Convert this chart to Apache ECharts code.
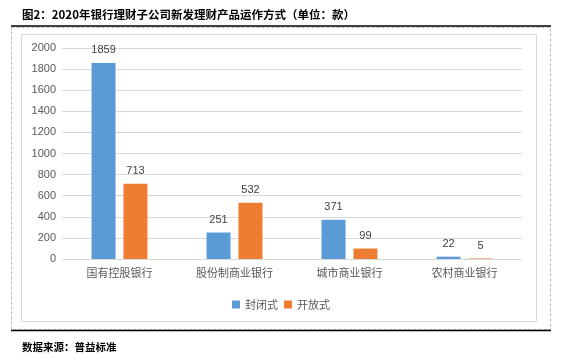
<!DOCTYPE html>
<html><head><meta charset="utf-8">
<script src="https://cdn.jsdelivr.net/npm/echarts@6/dist/echarts.min.js"></script>
<style>html,body{margin:0;padding:0;background:#fff}#c{width:562px;height:358px}</style>
</head><body><div id="c"></div>
<script>
var categories = ['国有控股银行', '股份制商业银行', '城市商业银行', '农村商业银行'];
var closedValues = [1859, 251, 371, 22];
var openValues = [713, 532, 99, 5];
var seriesNames = ['封闭式', '开放式'];
var yTicks = {min: 0, max: 2000, interval: 200};

var font = '"Noto Sans CJK SC", sans-serif';
var chart = echarts.init(document.getElementById('c'));
chart.setOption({
  animation: false,
  title: [{
    text: '图2：2020年银行理财子公司新发理财产品运作方式（单位：款）',
    left: 17, top: 4,
    textStyle: {fontFamily: font, fontSize: 11.5, fontWeight: 'bold', color: '#000'}
  }, {
    text: '数据来源：普益标准',
    left: 17, top: 337,
    textStyle: {fontFamily: font, fontSize: 10.5, fontWeight: 'bold', color: '#000'}
  }],
  graphic: [
    {type: 'rect', shape: {x: 11.5, y: 27.5, width: 539, height: 302}, style: {fill: 'none', stroke: '#bbb', lineWidth: 1, lineDash: [3, 2]}},
    {type: 'rect', shape: {x: 21.5, y: 34.5, width: 515, height: 287}, style: {fill: 'none', stroke: '#d9d9d9', lineWidth: 1}},
    {type: 'line', shape: {x1: 11, y1: 26, x2: 551, y2: 26}, style: {stroke: '#000', lineWidth: 1.5}},
    {type: 'line', shape: {x1: 11, y1: 330.5, x2: 551, y2: 330.5}, style: {stroke: '#000', lineWidth: 1.5}}
  ],
  grid: {left: 62, right: 40, top: 48, bottom: 99},
  legend: {
    data: seriesNames, left: 'center', top: 294,
    itemWidth: 8, itemHeight: 8, itemGap: 6, icon: 'rect',
    textStyle: {fontFamily: font, fontSize: 11, color: '#595959'}
  },
  xAxis: {
    type: 'category', data: categories,
    axisLine: {lineStyle: {color: '#d9d9d9'}},
    axisTick: {show: false},
    axisLabel: {fontFamily: font, fontSize: 11, color: '#595959', margin: 8}
  },
  yAxis: {
    type: 'value', min: yTicks.min, max: yTicks.max, interval: yTicks.interval,
    axisLine: {show: false}, axisTick: {show: false},
    splitLine: {lineStyle: {color: '#d9d9d9'}},
    axisLabel: {fontFamily: 'Liberation Sans, Arial, sans-serif', fontSize: 11, color: '#595959', margin: 6,
      formatter: function (v) { return String(v); }}
  },
  series: [{
    name: seriesNames[0], type: 'bar', data: closedValues, barWidth: 24, barGap: '33%',
    itemStyle: {color: '#5B9BD5'},
    label: {show: true, position: 'top', distance: 7, fontFamily: 'Liberation Sans, Arial, sans-serif', fontSize: 11, color: '#404040'}
  }, {
    name: seriesNames[1], type: 'bar', data: openValues, barWidth: 24,
    itemStyle: {color: '#ED7D31'},
    label: {show: true, position: 'top', distance: 7, fontFamily: 'Liberation Sans, Arial, sans-serif', fontSize: 11, color: '#404040'}
  }]
});
</script></body></html>
